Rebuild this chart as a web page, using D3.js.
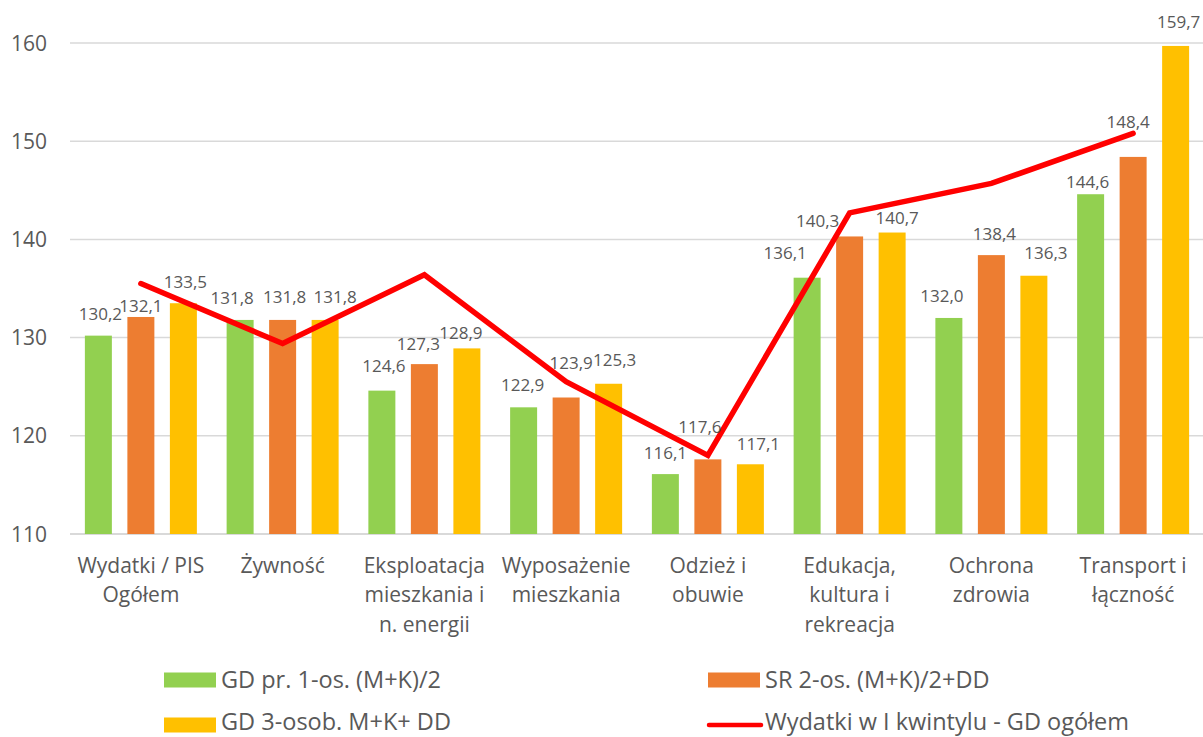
<!DOCTYPE html>
<html>
<head>
<meta charset="utf-8">
<script src="https://cdnjs.cloudflare.com/ajax/libs/d3/7.8.5/d3.min.js"></script>
<style>
  body { margin: 0; background: #fff; }
  text { font-family: "Open Sans", Lato, sans-serif; fill: #595959; }
</style>
</head>
<body>
<script>
    var categories = ["Wydatki / PIS\nOgółem", "Żywność", "Eksploatacja\nmieszkania i\nn. energii", "Wyposażenie\nmieszkania",
        "Odzież i\nobuwie", "Edukacja,\nkultura i\nrekreacja", "Ochrona\nzdrowia", "Transport i\nłączność"];
    var seriesNames = ["GD pr. 1-os. (M+K)/2", "SR 2-os. (M+K)/2+DD", "GD 3-osob. M+K+ DD"];
    var gd1 = [130.2, 131.8, 124.6, 122.9, 116.1, 136.1, 132.0, 144.6];
    var sr2 = [132.1, 131.8, 127.3, 123.9, 117.6, 140.3, 138.4, 148.4];
    var gd3 = [133.5, 131.8, 128.9, 125.3, 117.1, 140.7, 136.3, 159.7];
    var lineName = "Wydatki w I kwintylu - GD ogółem";
    var kwintyl = [135.5, 129.4, 136.4, 125.5, 118.0, 142.7, 145.7, 150.8];
    var yTicks = [110, 120, 130, 140, 150, 160];

    var colors = ["#92D050", "#ED7D31", "#FFC000"];
    // how far above the bar top each value label sits (px), as placed in the original
    var labelLift = [
        [22, 22, 25, 22, 21, 25, 22, 12],
        [11, 23, 20, 35, 32, 16, 21, 35],
        [21, 23, 16, 24, 20, 15, 23, 24]
    ];
    // sideways nudges of the labels
    var labelDx = [
        [2, -8, 2, -1, 0, -22, -7, -3],
        [0, 2, -6, 5, -8, -32, 3, -5],
        [2, 10, -6, 6, 8, 5, 12, 3]
    ];

    var width = 1203, height = 737;
    var plotLeft = 70, plotRight = 1204, plotTop = 43, plotBottom = 534;

    var svg = d3.select("body").append("svg").attr("width", width).attr("height", height);

    var x0 = d3.scaleBand().domain(d3.range(categories.length)).range([plotLeft, plotRight]);
    var x1 = d3.scaleBand().domain(d3.range(3)).range([0, x0.bandwidth()]).paddingInner(0.365).paddingOuter(0.35);
    var y = d3.scaleLinear().domain([110, 160]).range([plotBottom, plotTop]);

    // gridlines
    svg.selectAll("line.grid").data(yTicks).enter().append("line")
        .attr("x1", plotLeft).attr("x2", width)
        .attr("y1", function(d) { return y(d); }).attr("y2", function(d) { return y(d); })
        .attr("stroke", "#d9d9d9").attr("stroke-width", function(d) { return d == 110 ? 2 : 1.5; });

    svg.selectAll("text.ytick").data(yTicks).enter().append("text")
        .attr("x", 47).attr("y", function(d) { return y(d); })
        .attr("dy", "0.36em").attr("text-anchor", "end")
        .attr("font-size", "21px")
        .text(function(d) { return d; });

    var series = [gd1, sr2, gd3];

    // bars
    series.forEach(function(vals, s) {
        svg.selectAll("rect.s" + s).data(vals).enter().append("rect")
            .attr("x", function(d, i) { return x0(i) + x1(s); })
            .attr("y", function(d) { return y(d); })
            .attr("width", x1.bandwidth())
            .attr("height", function(d) { return plotBottom - y(d); })
            .attr("fill", colors[s]);
    });

    // red line
    var line = d3.line()
        .x(function(d, i) { return x0(i) + x0.bandwidth() / 2; })
        .y(function(d) { return y(d); });
    svg.append("path").datum(kwintyl)
        .attr("d", line).attr("fill", "none")
        .attr("stroke", "#FF0000").attr("stroke-width", 5.5)
        .attr("stroke-linecap", "round").attr("stroke-linejoin", "miter");

    // value labels
    series.forEach(function(vals, s) {
        svg.selectAll("text.v" + s).data(vals).enter().append("text")
            .attr("x", function(d, i) { return x0(i) + x1(s) + x1.bandwidth() / 2 + labelDx[s][i]; })
            .attr("y", function(d, i) { return y(d) - labelLift[s][i]; })
            .attr("dy", "0.36em").attr("text-anchor", "middle")
            .attr("font-size", "17px").attr("fill", "#404040")
            .text(function(d) { return d.toFixed(1).replace(".", ","); });
    });

    // category labels
    categories.forEach(function(c, i) {
        var t = svg.append("text")
            .attr("text-anchor", "middle").attr("font-size", "21px");
        c.split("\n").forEach(function(part, k) {
            t.append("tspan")
                .attr("x", x0(i) + x0.bandwidth() / 2)
                .attr("y", 565 + k * 29.5)
                .attr("dy", "0.36em")
                .text(part);
        });
    });

    // legend
    var legend = [
        { name: seriesNames[0], color: colors[0], x: 164, y: 680, kind: "rect" },
        { name: seriesNames[1], color: colors[1], x: 708, y: 680, kind: "rect" },
        { name: seriesNames[2], color: colors[2], x: 164, y: 725, kind: "rect" },
        { name: lineName, color: "#FF0000", x: 708, y: 725, kind: "line" }
    ];
    legend.forEach(function(l) {
        if (l.kind == "rect") {
            svg.append("rect").attr("x", l.x).attr("y", l.y - 7.5).attr("width", 52).attr("height", 15).attr("fill", l.color);
        } else {
            svg.append("line").attr("x1", l.x + 1).attr("x2", l.x + 53).attr("y1", l.y).attr("y2", l.y)
                .attr("stroke", l.color).attr("stroke-width", 4.5).attr("stroke-linecap", "round");
        }
        svg.append("text").attr("x", l.x + 57).attr("y", l.y > 700 ? l.y - 3 : l.y).attr("dy", "0.36em")
            .attr("font-size", "23.5px").text(l.name);
    });
</script>
</body>
</html>
